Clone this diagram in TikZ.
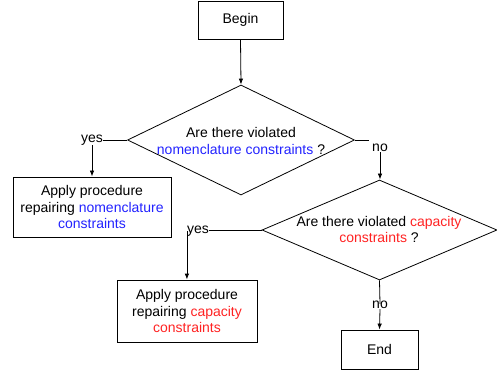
\documentclass[tikz,border=0pt]{standalone}
\usepackage{fontspec}
\setmainfont{Liberation Sans}
\usetikzlibrary{shapes.geometric,arrows.meta}
\definecolor{nblue}{RGB}{34,34,255}
\definecolor{cred}{RGB}{255,34,34}
\begin{document}
\begin{tikzpicture}[x=1pt,y=-1pt,
  every node/.style={font=\fontsize{14}{16.5}\selectfont},
  box/.style={draw, line width=0.8pt, inner sep=0pt, align=center},
  decision/.style={draw, diamond, line width=0.8pt, inner sep=0pt},
  lbl/.style={inner sep=0pt},
  conn/.style={line width=0.8pt},
  arr/.style={line width=0.8pt, -{Latex[length=6pt,width=4.5pt]}}]
\useasboundingbox (0,0) rectangle (497,379);
\node[box, minimum width=85pt, minimum height=38pt] (begin) at (240.5,20) {Begin};
\node[decision, minimum width=227pt, minimum height=110pt] (d1) at (241,140) {};
\node[lbl, align=center] (d1t) at (241,141) {Are there violated\\\textcolor{nblue}{nomenclature constraints} ?};
\node[box, minimum width=158pt, minimum height=60pt] (r1) at (92,207) {Apply procedure\\repairing \textcolor{nblue}{nomenclature}\\\textcolor{nblue}{constraints}};
\node[lbl] (yes1) at (92,140) {yes};
\node[lbl] (no1) at (380,148) {no};
\node[decision, minimum width=235pt, minimum height=100pt] (d2) at (379.5,230) {};
\node[lbl, align=center] (d2t) at (379,229.5) {Are there violated \textcolor{cred}{capacity}\\\textcolor{cred}{constraints} ?};
\node[lbl] (yes2) at (198,231) {yes};
\node[box, minimum width=140pt, minimum height=62pt] (r2) at (187,311) {Apply procedure\\repairing \textcolor{cred}{capacity}\\\textcolor{cred}{constraints}};
\node[lbl] (no2) at (380,305) {no};
\node[box, minimum width=77pt, minimum height=39pt] (end) at (379.5,349.5) {End};
\draw[arr] (begin.south) -- (d1.north);
\draw[conn] (d1.west) -- (yes1.east |- d1.west);
\draw[arr] (yes1.south) -- (yes1.south |- r1.north);
\draw[conn] (d1.east) -- ([xshift=-3pt]no1.west |- d1.east);
\draw[arr] (no1.south) -- (no1.south |- d2.north);
\draw[conn] (d2.west) -- (yes2.east |- d2.west);
\draw[arr] (yes2.west) -- (yes2.west |- r2.north);
\draw[conn] (d2.south) -- ([yshift=-3pt]no2.north);
\draw[arr] (no2.south) -- (end.north);
\end{tikzpicture}
\end{document}
